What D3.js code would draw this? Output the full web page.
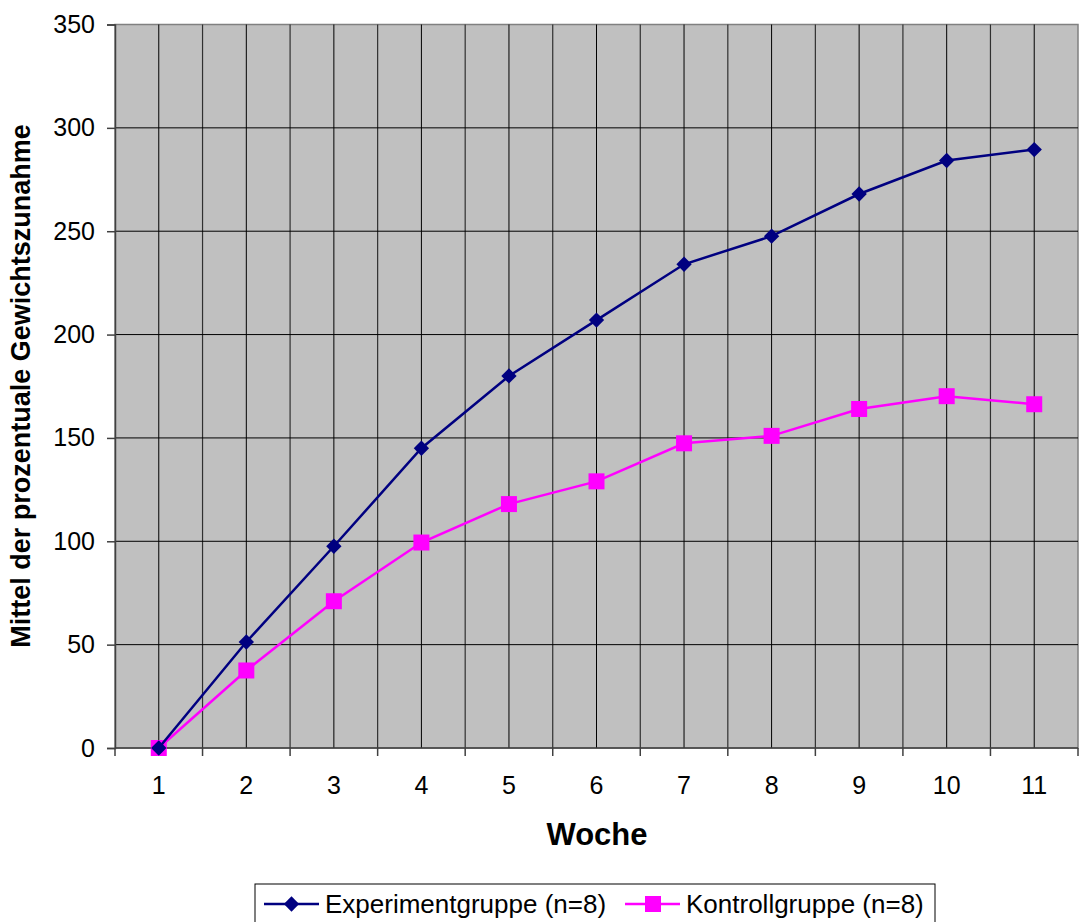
<!DOCTYPE html>
<html>
<head>
<meta charset="utf-8">
<script src="https://cdn.jsdelivr.net/npm/d3@7"></script>
<style>
  html, body { margin: 0; padding: 0; background: #fff; }
  svg text { font-family: "Liberation Sans", Arial, sans-serif; fill: #000; }
</style>
</head>
<body>
<svg id="chart" width="1079" height="922"></svg>
<script>
// Weekly mean percentage weight gain for two groups
const weeks = [1, 2, 3, 4, 5, 6, 7, 8, 9, 10, 11];
const experimentValues = [0, 51.3, 97.6, 145, 180, 207, 234, 247.6, 268, 284.2, 289.5];
const controlValues = [0, 37.5, 71, 99.4, 118, 129, 147.4, 151, 164, 170.2, 166.3];
const yTicks = [0, 50, 100, 150, 200, 250, 300, 350];
const seriesNames = ["Experimentgruppe (n=8)", "Kontrollgruppe (n=8)"];

const svg = d3.select("#chart");
const plot = { left: 115, top: 24.5, right: 1078, bottom: 748 };

const x = d3.scaleBand().domain(weeks).range([plot.left, plot.right]).padding(0);
const y = d3.scaleLinear().domain([0, 350]).range([plot.bottom, plot.top]);
const cx = d => x(d) + x.bandwidth() / 2;

// plot background
svg.append("rect")
  .attr("x", plot.left).attr("y", plot.top)
  .attr("width", plot.right - plot.left).attr("height", plot.bottom - plot.top)
  .attr("fill", "#c0c0c0").attr("stroke", "#808080").attr("stroke-width", 1.5);

// vertical gridlines: category boundaries (dark grey) and centres (black)
const boundaryLines = weeks.map(w => x(w)).filter(v => v > plot.left + 1);
const centreLines = weeks.map(w => cx(w));
svg.append("g").selectAll("line").data(boundaryLines).join("line")
  .attr("x1", d => d).attr("x2", d => d)
  .attr("y1", plot.top).attr("y2", plot.bottom)
  .attr("stroke", "#303030").attr("stroke-width", 1.2);
svg.append("g").selectAll("line").data(centreLines).join("line")
  .attr("x1", d => d).attr("x2", d => d)
  .attr("y1", plot.top).attr("y2", plot.bottom)
  .attr("stroke", "#000").attr("stroke-width", 1);

// horizontal gridlines
svg.append("g").selectAll("line").data(yTicks.filter(t => t > 0 && t < 350)).join("line")
  .attr("x1", plot.left).attr("x2", plot.right)
  .attr("y1", d => y(d)).attr("y2", d => y(d))
  .attr("stroke", "#000").attr("stroke-width", 1);

// y axis
const yAxis = svg.append("g").attr("transform", `translate(${plot.left},0)`)
  .call(d3.axisLeft(y).tickValues(yTicks).tickSize(8).tickPadding(12));
yAxis.select(".domain").attr("stroke", "#404040").attr("stroke-width", 1.5);
yAxis.selectAll(".tick line").attr("stroke", "#404040").attr("stroke-width", 1.5);
yAxis.selectAll(".tick text").style("font-size", "25px").attr("font-family", "Liberation Sans, Arial, sans-serif");

// x axis: ticks at category boundaries, labels at centres
const xAxisG = svg.append("g").attr("transform", `translate(0,${plot.bottom})`);
xAxisG.append("line").attr("x1", plot.left).attr("x2", plot.right).attr("y1", 0).attr("y2", 0)
  .attr("stroke", "#404040").attr("stroke-width", 1.5);
const bounds = weeks.map(w => x(w)).concat([plot.right]);
xAxisG.selectAll("line.tk").data(bounds).join("line").attr("class", "tk")
  .attr("x1", d => d).attr("x2", d => d).attr("y1", 0).attr("y2", 8)
  .attr("stroke", "#404040").attr("stroke-width", 1.5);
xAxisG.selectAll("text").data(weeks).join("text")
  .attr("x", d => cx(d)).attr("y", 46)
  .attr("text-anchor", "middle").style("font-size", "25px")
  .text(d => d);

// axis titles
svg.append("text").attr("x", 597).attr("y", 845).attr("text-anchor", "middle")
  .style("font-size", "31px").style("font-weight", "bold").text("Woche");
svg.append("text").attr("transform", "translate(30,386) rotate(-90)").attr("text-anchor", "middle")
  .style("font-size", "27px").style("font-weight", "bold").text("Mittel der prozentuale Gewichtszunahme");

// series
const line = d3.line().x((d, i) => cx(weeks[i])).y(d => y(d));
const navy = "#000080", magenta = "#ff00ff";

svg.append("path").datum(controlValues).attr("d", line)
  .attr("fill", "none").attr("stroke", magenta).attr("stroke-width", 2.5);
svg.append("g").selectAll("rect").data(controlValues).join("rect")
  .attr("x", (d, i) => cx(weeks[i]) - 8).attr("y", d => y(d) - 8)
  .attr("width", 16).attr("height", 16).attr("fill", magenta);

svg.append("path").datum(experimentValues).attr("d", line)
  .attr("fill", "none").attr("stroke", navy).attr("stroke-width", 2.5);
const diamond = d3.symbol().type(d3.symbolDiamond2).size(150);
svg.append("g").selectAll("path").data(experimentValues).join("path")
  .attr("d", diamond)
  .attr("transform", (d, i) => `translate(${cx(weeks[i])},${y(d)})`)
  .attr("fill", navy);

// legend
const lg = svg.append("g");
lg.append("rect").attr("x", 255).attr("y", 884).attr("width", 680).attr("height", 44)
  .attr("fill", "#fff").attr("stroke", "#000").attr("stroke-width", 1);
const legendItems = [
  { name: seriesNames[0], color: navy, x0: 264, shape: "diamond" },
  { name: seriesNames[1], color: magenta, x0: 625, shape: "square" }
];
legendItems.forEach(it => {
  const ly = 904;
  lg.append("line").attr("x1", it.x0).attr("x2", it.x0 + 55).attr("y1", ly).attr("y2", ly)
    .attr("stroke", it.color).attr("stroke-width", 2.5);
  if (it.shape === "diamond") {
    lg.append("path").attr("d", diamond).attr("transform", `translate(${it.x0 + 27.5},${ly})`).attr("fill", it.color);
  } else {
    lg.append("rect").attr("x", it.x0 + 20).attr("y", ly - 8).attr("width", 16).attr("height", 16).attr("fill", it.color);
  }
  lg.append("text").attr("x", it.x0 + 61).attr("y", 913).style("font-size", "26px").text(it.name);
});
</script>
</body>
</html>
